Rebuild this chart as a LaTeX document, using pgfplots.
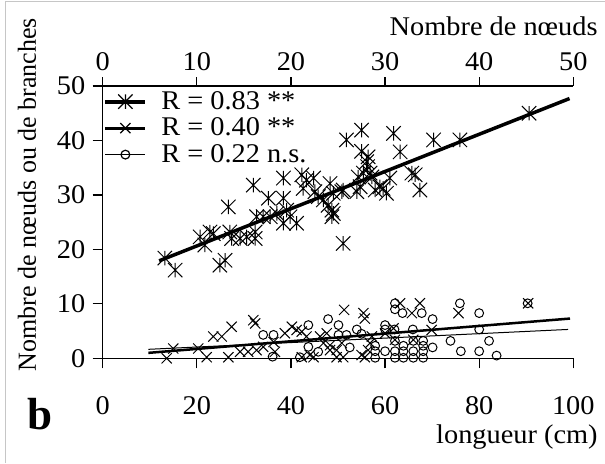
\documentclass[border=0pt]{standalone}
\usepackage{fontspec}
\setmainfont{Liberation Serif}[FakeStretch=1.05]
\newfontfamily\plainserif{Liberation Serif}
\usepackage{pgfplots}
\pgfplotsset{compat=1.18}
\pgfdeclareplotmark{xstar}{%
  \pgfpathmoveto{\pgfqpoint{-\pgfplotmarksize}{-\pgfplotmarksize}}%
  \pgfpathlineto{\pgfqpoint{\pgfplotmarksize}{\pgfplotmarksize}}%
  \pgfpathmoveto{\pgfqpoint{-\pgfplotmarksize}{\pgfplotmarksize}}%
  \pgfpathlineto{\pgfqpoint{\pgfplotmarksize}{-\pgfplotmarksize}}%
  \pgfpathmoveto{\pgfqpoint{0pt}{-\pgfplotmarksize}}%
  \pgfpathlineto{\pgfqpoint{0pt}{\pgfplotmarksize}}%
  \pgfusepathqstroke}
\begin{document}
\fontsize{13.5}{16.2}\selectfont
\begin{tikzpicture}
\useasboundingbox (0pt,0pt) rectangle (302.5pt,231.5pt);
\draw[gray!45, line width=0.7pt] (2.6pt,0pt) -- (2.6pt,230.9pt) -- (302.5pt,230.9pt);
\begin{axis}[
  at={(51.35pt,52.35pt)}, anchor=south west,
  scale only axis, width=235.3pt, height=136.15pt,
  xmin=0, xmax=100, ymin=0, ymax=50,
  axis x line=bottom, axis y line=left,
  axis line style={-, line width=0.6pt},
  xtick={0,20,...,100}, ytick={0,10,...,50},
  tick align=outside, major tick length=5pt,
  tick style={line width=0.6pt, black},
  xticklabel style={yshift=-9.5pt},
  yticklabel style={xshift=1pt},
  /pgf/number format/assume math mode=true,
  tick label style={font=\fontsize{13.5}{16.2}\selectfont},
  clip=false,
  legend style={at={(0,1)}, anchor=north west, xshift=0.4pt, yshift=-2.3pt,
    draw=none, fill=none, inner sep=0pt, outer sep=0pt,
    row sep=2.25pt, column sep=7pt,
    nodes={inner sep=0pt, text height=9.3pt, text depth=1.7pt, font=\fontsize{13.5}{16.2}\selectfont}},
  legend cell align=left,
  legend image code/.code={\draw[mark repeat=2, mark phase=2, #1] plot coordinates {(0pt,0pt) (10pt,0pt) (20pt,0pt)};},
]
\addlegendimage{black, line width=1.9pt, mark=xstar, mark size=3.6pt, mark options={line width=0.6pt}}
\addlegendentry{R = 0.83 **}
\addlegendimage{black, line width=1.5pt, mark=x, mark size=3.6pt, mark options={line width=0.6pt}}
\addlegendentry{R = 0.40 **}
\addlegendimage{black, line width=0.6pt, mark=o, mark size=2.2pt, mark options={line width=0.6pt}}
\addlegendentry{R = 0.22 n.s.}

% asterisks (R = 0.83)
\addplot[forget plot, only marks, mark=xstar, mark size=3.6pt, mark options={black, line width=0.5pt}] table {
x y
13.2 18.4
15.4 16.2
20.7 22.3
21.7 20.8
22.8 23.2
23.5 22.9
24.9 17.1
26.0 18.0
26.7 27.8
27.0 23.2
27.4 22.0
29.2 22.0
30.6 22.3
32.0 31.8
32.4 22.0
32.4 23.2
32.7 26.0
34.1 26.0
35.2 29.4
35.6 26.0
37.0 26.6
38.4 33.1
38.4 29.4
38.4 24.8
39.1 27.2
39.8 26.0
41.2 24.8
42.3 33.7
42.6 31.2
43.3 32.7
44.8 33.1
45.1 30.6
45.8 29.7
46.9 29.1
47.9 28.1
48.3 32.1
48.7 27.2
48.7 26.0
49.0 30.3
49.0 26.6
50.8 30.6
51.1 21.1
51.1 30.9
51.8 40.1
54.0 30.6
54.3 33.3
54.7 31.5
55.0 41.9
55.0 38.0
55.4 34.0
56.1 36.1
56.3 35.2
56.4 37.0
56.8 34.0
57.2 33.3
57.9 30.9
58.9 31.5
59.6 31.2
60.3 30.3
61.0 33.1
61.8 41.3
63.2 37.9
65.7 34.0
66.4 33.7
67.4 30.9
70.3 40.1
75.9 40.1
90.6 45.0
};

% crosses (R = 0.40)
\addplot[forget plot, only marks, mark=x, mark size=3.6pt, mark options={black, line width=0.5pt}] table {
x y
13.6 0.0
15.0 1.8
20.3 1.8
22.1 0.2
23.5 4.0
25.3 4.0
26.7 0.2
27.4 5.8
29.2 1.2
30.9 1.2
32.0 7.0
32.4 6.4
32.7 1.5
34.1 2.1
36.3 3.0
36.6 1.2
38.7 4.6
40.2 5.8
41.2 5.2
42.3 4.9
42.3 0.2
43.3 4.0
44.0 0.6
44.8 0.2
46.2 4.0
46.9 2.8
47.6 4.6
48.3 1.5
48.3 2.4
49.7 0.2
49.7 1.5
50.8 2.8
51.3 8.9
51.1 0.2
55.0 0.6
55.4 8.3
55.7 7.3
55.7 0.2
56.4 1.5
56.8 2.8
57.2 4.0
60.0 4.6
61.8 5.5
62.1 3.4
63.2 10.1
65.7 8.3
66.0 3.4
67.4 10.1
69.9 5.2
75.6 8.3
90.4 10.1
};

% circles (R = 0.22)
\addplot[forget plot, only marks, mark=o, mark size=2.2pt, mark options={black, line width=0.5pt}] table {
x y
34.1 4.3
36.3 4.3
36.1 0.3
41.9 0.2
43.7 6.1
43.7 2.1
45.8 1.2
47.9 7.2
50.1 6.1
50.1 4.3
51.8 4.3
52.5 2.0
54.0 5.3
55.0 4.5
57.9 2.3
57.9 1.3
57.9 0.1
60.0 6.1
60.0 5.3
60.0 1.3
62.0 5.3
62.1 10.1
62.1 9.0
62.1 3.2
62.1 1.3
62.1 0.1
63.7 8.3
63.9 2.3
63.9 1.3
63.9 0.1
65.9 5.3
66.0 3.2
66.0 1.3
66.0 0.1
67.8 8.3
68.1 3.2
68.1 2.3
68.1 1.3
68.1 0.1
70.1 7.2
70.1 2.0
73.9 3.2
75.9 10.1
76.1 1.3
80.0 8.3
80.0 5.3
80.0 1.3
82.1 3.2
83.7 0.5
90.3 10.1
};

% regression lines
\addplot[forget plot, black, line width=1.75pt] coordinates {(12.0,17.9) (99.2,47.7)};
\addplot[forget plot, black, line width=1.25pt] coordinates {(9.7,1.0) (99.3,7.3)};
\addplot[forget plot, black, line width=0.5pt] coordinates {(9.7,1.65) (98.9,5.3)};
\end{axis}

\begin{axis}[
  at={(51.35pt,52.35pt)}, anchor=south west,
  scale only axis, width=235.3pt, height=136.15pt,
  xmin=0, xmax=50, ymin=0, ymax=50,
  axis x line=top, hide y axis,
  axis line style={-, line width=0.6pt},
  xtick={0,10,...,50},
  tick align=outside, major tick length=4.5pt,
  tick style={line width=0.6pt, black},
  xticklabel style={yshift=-1.5pt},
  /pgf/number format/assume math mode=true,
  tick label style={font=\fontsize{13.5}{16.2}\selectfont},
]
\end{axis}

\node[anchor=east, inner sep=0pt] at (299pt,218.5pt) {Nombre de nœuds};
\node[anchor=east, inner sep=0pt] at (299pt,13pt) {longueur (cm)};
\node[rotate=90, inner sep=0pt, font=\fontsize{13}{15.6}\selectfont\plainserif] at (13.5pt,134.25pt) {Nombre de nœuds ou de branches};
\node[inner sep=0pt, font=\fontsize{22.5}{22.5}\selectfont\plainserif\bfseries] at (20.2pt,24.5pt) {b};
\end{tikzpicture}
\end{document}
